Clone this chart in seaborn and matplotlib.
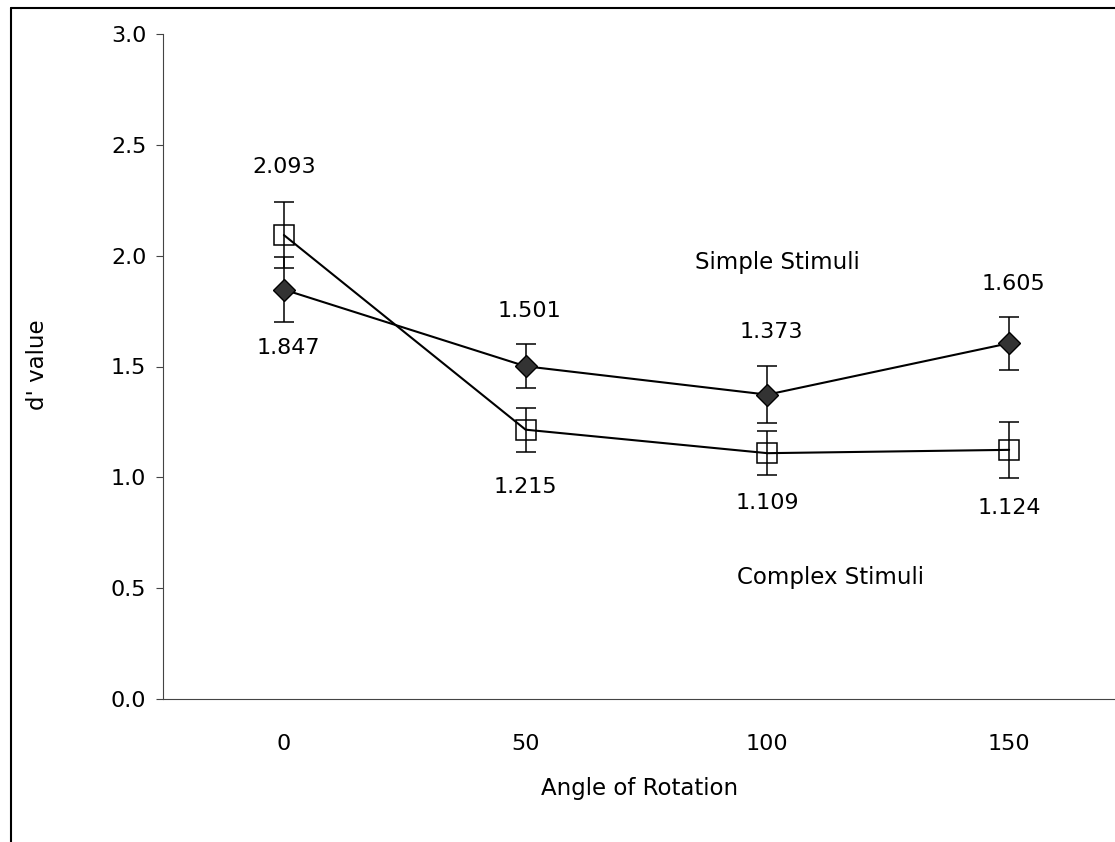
import numpy as np
import pandas as pd
import matplotlib
matplotlib.use('Agg')
import matplotlib.pyplot as plt
from matplotlib.lines import Line2D
import seaborn as sns

# values
angles = ['0', '50', '100', '150']
simple_dprime = [1.847, 1.501, 1.373, 1.605]
simple_err = [0.147, 0.10, 0.13, 0.12]
complex_dprime = [2.093, 1.215, 1.109, 1.124]
complex_err = [0.15, 0.10, 0.10, 0.127]

# label offsets in points (positive = above the point)
simple_label_dy = [-42, 40, 45, 43]
complex_label_dy = [49, -41, -36, -42]

sns.set_style('white')
plt.rcParams['font.family'] = ['DejaVu Sans']
plt.rcParams['font.size'] = 16
plt.rcParams['text.color'] = 'black'
plt.rcParams['axes.labelcolor'] = 'black'
plt.rcParams['xtick.color'] = 'black'
plt.rcParams['ytick.color'] = 'black'

df = pd.DataFrame({
    'pos': np.arange(len(angles)),
    'simple': simple_dprime,
    'complex': complex_dprime,
})

fig = plt.figure(figsize=(11.15, 8.42), dpi=100)
ax = fig.add_axes([163 / 1115, 1 - 699 / 842, 967 / 1115, 665 / 842])

# error bars first so the filled diamonds sit on top
ax.errorbar(df['pos'], df['simple'], yerr=simple_err, fmt='none', ecolor='black',
            elinewidth=1.1, capsize=7, capthick=1.1, zorder=1)
ax.errorbar(df['pos'], df['complex'], yerr=complex_err, fmt='none', ecolor='black',
            elinewidth=1.1, capsize=7, capthick=1.1, zorder=1)

sns.lineplot(data=df, x='pos', y='simple', ax=ax, color='black', linewidth=1.5,
             marker='D', markersize=11, markerfacecolor='#333333',
             markeredgecolor='black', markeredgewidth=1, sort=False, zorder=3)
sns.lineplot(data=df, x='pos', y='complex', ax=ax, color='black', linewidth=1.5,
             marker='s', markersize=14.5, markerfacecolor='none',
             markeredgecolor='black', markeredgewidth=1.1, sort=False, zorder=3)

# value labels
for i, v in enumerate(simple_dprime):
    ax.annotate(f'{v:.3f}', (i, v), xytext=(3, simple_label_dy[i]),
                textcoords='offset points', ha='center', va='center', fontsize=16)
for i, v in enumerate(complex_dprime):
    ax.annotate(f'{v:.3f}', (i, v), xytext=(0, complex_label_dy[i]),
                textcoords='offset points', ha='center', va='center', fontsize=16)

ax.text(2.04, 1.967, 'Simple Stimuli', ha='center', va='center', fontsize=16.5)
ax.text(2.26, 0.55, 'Complex Stimuli', ha='center', va='center', fontsize=16.5)

# axes
ax.set_xlim(-0.5, 3.5)
ax.set_ylim(0, 3.0)
ax.set_yticks(np.arange(0, 3.01, 0.5))
ax.set_yticklabels([f'{t:.1f}' for t in np.arange(0, 3.01, 0.5)])
ax.set_xticks(df['pos'])
ax.set_xticklabels(angles)
ax.set_xticks(np.arange(-0.5, 3.6, 1.0), minor=True)
ax.tick_params(axis='x', which='major', length=0, pad=25, labelsize=16)
ax.tick_params(axis='x', which='minor', length=5, width=0.8, direction='out', color='#444444')
ax.tick_params(axis='y', length=5, width=0.8, direction='out', pad=7, labelsize=16,
               color='#444444', left=True)

for side in ['top', 'right']:
    ax.spines[side].set_visible(False)
for side in ['left', 'bottom']:
    ax.spines[side].set_color('#444444')
    ax.spines[side].set_linewidth(0.8)

ax.set_xlabel('Angle of Rotation', fontsize=16.5, va='center')
ax.xaxis.set_label_coords(0.493, -0.134)
ax.set_ylabel("d' value", fontsize=16.5, va='center')
ax.yaxis.set_label_coords(-0.130, 0.502)

# frame lines of the scanned page (left and top edges)
fig.add_artist(Line2D([11 / 1115, 11 / 1115], [0, 1 - 8 / 842], color='black', linewidth=1.5,
                      transform=fig.transFigure))
fig.add_artist(Line2D([11 / 1115, 1], [1 - 8 / 842, 1 - 8 / 842], color='black', linewidth=1.5,
                      transform=fig.transFigure))

fig.savefig('out.png', dpi=100)
